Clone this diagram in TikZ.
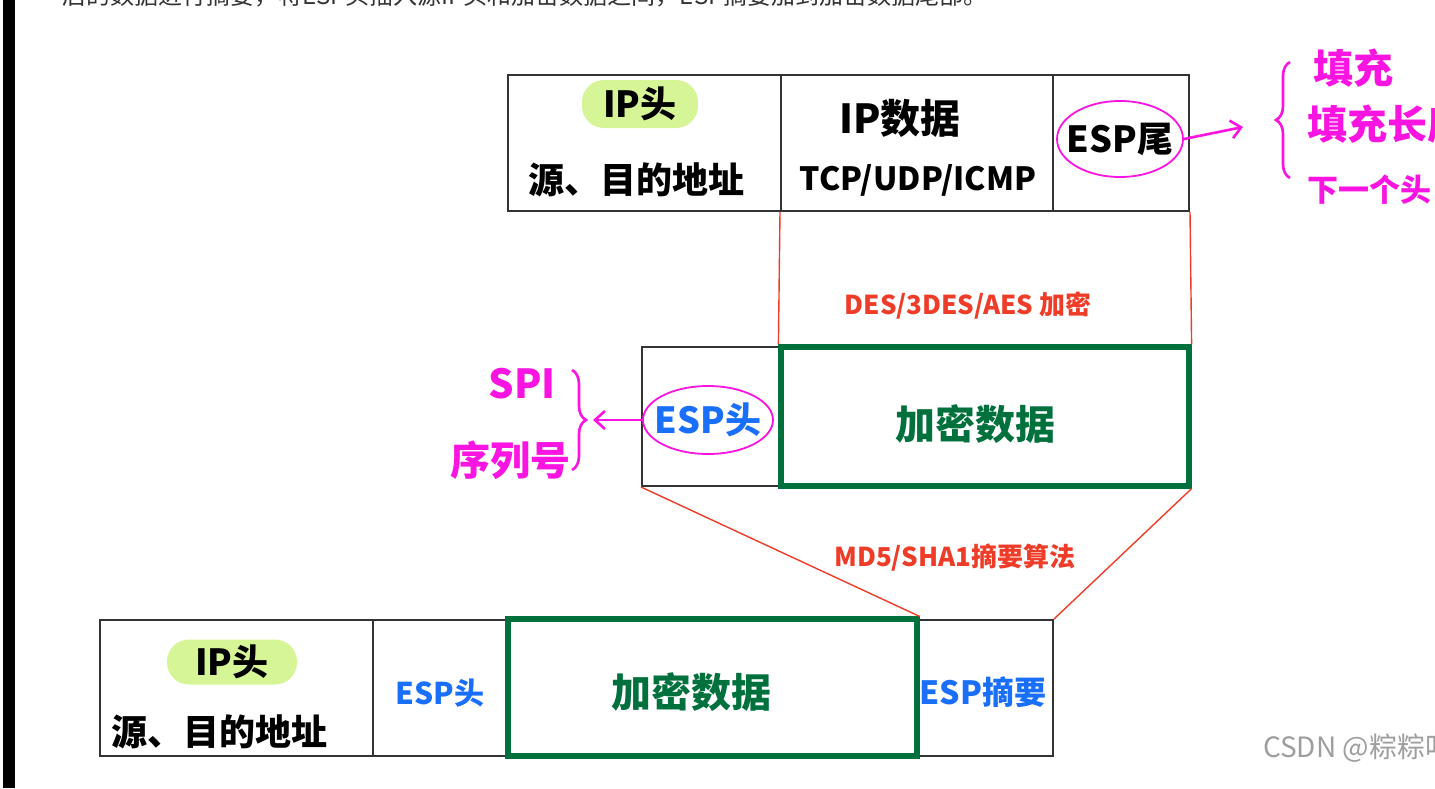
\documentclass[tikz,border=0pt]{standalone}
\usepackage{fontspec}
\setmainfont{Noto Sans CJK SC}
\usetikzlibrary{arrows.meta,positioning,fit,shapes.geometric,decorations.pathreplacing}
\definecolor{hand}{RGB}{250,20,225}
\definecolor{hilite}{RGB}{214,245,150}
\definecolor{encgreen}{RGB}{0,112,60}
\definecolor{espblue}{RGB}{25,110,250}
\definecolor{algred}{RGB}{238,60,40}

\begin{document}
\begin{tikzpicture}[x=.5pt,y=-.5pt,
  cell/.style={draw=black!80,line width=1pt,inner sep=0pt},
  encbox/.style={draw=encgreen,line width=2.6pt,inner sep=0pt},
  txt/.style={font=\fontsize{18}{18}\selectfont\bfseries},
  big/.style={font=\fontsize{20}{20}\selectfont\bfseries},
  hl/.style={fill=hilite,rounded corners=11pt,inner sep=0pt},
  ring/.style={draw=hand,line width=.9pt,ellipse,inner sep=-6pt},
  handtxt/.style={text=hand,font=\fontsize{20}{20}\selectfont\bfseries},
  handarrow/.style={draw=hand,line width=1.3pt,-{Straight Barb[length=5pt,width=9pt]}},
  handbrace/.style={draw=hand,line width=1.3pt,decorate,decoration={brace,amplitude=7pt}},
  algline/.style={draw=algred,line width=.7pt},
  alglabel/.style={text=algred,font=\fontsize{13}{13}\selectfont\bfseries}]
  \clip (0,0) rectangle (1435,788);
  \fill[black] (3,0) rectangle (15,788);
  \node[anchor=base west,text=black!80,font=\fontsize{12}{12}\selectfont] (intro) at (55,4)
    {后的数据进行摘要，将ESP头插入源IP头和加密数据之间，ESP摘要加到加密数据尾部。};

  \node[cell,fit={(508,75) (781,211)}] (ipcell) {};
  \node[cell,fit={(781,75) (1053,211)}] (ipdata) {};
  \node[cell,fit={(1053,75) (1189,211)}] (tail) {};
  \node[hl,txt,minimum width=58pt,minimum height=24pt] (iphead) at (640,104) {IP头};
  \node[txt] (ipaddr) at (636,180) {源、目的地址};
  \node[big] (ipdatatxt) at (900,118) {IP数据};
  \node[txt,font=\fontsize{16}{16}\selectfont\bfseries] (ipproto) at (918,180) {TCP/UDP/ICMP};
  \node[ring,txt,minimum width=63pt,minimum height=38pt] (esptail) at (1120,139) {ESP尾};

  \coordinate (tailtip) at (1243,127);
  \draw[handarrow] (esptail.east) -- (tailtip);
  \draw[handbrace] (1290,178) -- (1290,62);
  \node[handtxt,anchor=west] (pad) at (1306,68) {填充};
  \node[handtxt,anchor=west] (padlen) at (1300,124) {填充长度};
  \node[handtxt,anchor=west,font=\fontsize{15.5}{16}\selectfont\bfseries] (nexthdr) at (1300,190) {下一个头};

  \node[cell,fit={(642,347) (781,486)}] (espcell) {};
  \node[encbox,fit={(781,347) (1189,486)}] (encmid) {};
  \node[ring,txt,text=espblue,minimum width=65pt,minimum height=34pt] (espmid) at (708,420) {ESP头};
  \node[big,text=encgreen] (enctxt) at (975,424) {加密数据};
  \draw[algline] (ipdata.south west) -- (encmid.north west);
  \draw[algline] (tail.south east) -- (encmid.north east);
  \node[alglabel] (cipher) at (968,306) {DES/3DES/AES 加密};

  \node[handtxt] (spi) at (522,384) {SPI};
  \node[handtxt] (seq) at (510,460) {序列号};
  \draw[handbrace] (572,370) -- (572,470);
  \coordinate (headtip) at (593,420);
  \draw[handarrow] (espmid.west) -- (headtip);

  \node[cell,fit={(100,620) (373,756)}] (ipbot) {};
  \node[cell,fit={(373,620) (508,756)}] (espbot) {};
  \node[cell,fit={(917,620) (1053,756)}] (digest) {};
  \node[encbox,fit={(508,619) (917,756)}] (encbot) {};
  \node[hl,txt,minimum width=65pt,minimum height=22.5pt] (ipheadbot) at (232,662) {IP头};
  \node[txt] (ipaddrbot) at (219,732) {源、目的地址};
  \node[text=espblue,font=\fontsize{15}{15}\selectfont\bfseries] (espheadbot) at (440,693) {ESP头};
  \node[big,text=encgreen] (enctxtbot) at (691,692) {加密数据};
  \node[text=espblue,font=\fontsize{16}{16}\selectfont\bfseries] (digesttxt) at (983,692) {ESP摘要};
  \draw[algline] (espcell.south west) -- (encbot.north east);
  \draw[algline] (encmid.south east) -- (digest.north east);
  \node[alglabel] (hashalg) at (955,558) {MD5/SHA1摘要算法};

  \node[anchor=west,text=black!38,font=\fontsize{14}{14}\selectfont] (mark) at (1256,748) {CSDN @粽粽吖};
\end{tikzpicture}
\end{document}
